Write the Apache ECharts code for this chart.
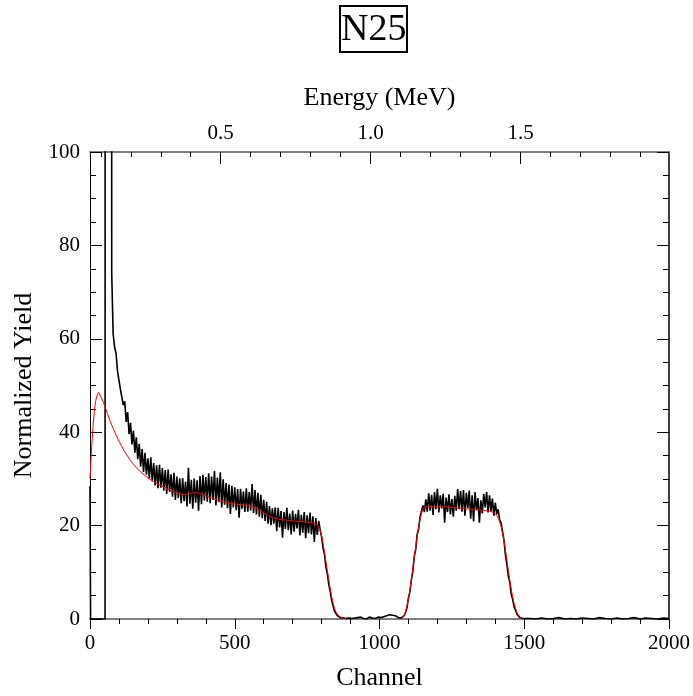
<!DOCTYPE html>
<html>
<head>
<meta charset="utf-8">
<title>N25</title>
<script src="https://cdn.jsdelivr.net/npm/echarts@6/dist/echarts.min.js"></script>
<style>
  html, body { margin: 0; padding: 0; background: #fff; }
  #chart { width: 693px; height: 696px; }
</style>
</head>
<body>
<div id="chart"></div>
<script>
// measured spectrum: irregular head (low-channel noise spike), then every 5 channels
var headChannels = [0, 1, 2, 52, 53, 74, 75]
var headCounts = [28.5, 28.5, 0, 0, 400, 400, 74]

var countsStart = 80
var countsStep = 5
var counts = [
  // 80 - 200
  61, 58.2, 56.9, 53.1, 52.8, 49.2, 49.6, 45.8, 46.6, 42.2, 44.3, 39.6, 42.0, 37.4, 40.3, 35.6, 38.9, 34.2, 37.5, 32.6, 36.4, 31.5, 35.6, 30.9, 34.4,
  // 205 - 400
  30.1, 34.6, 29.5, 33.4, 28.6, 32.9, 28.0, 33.0, 28.1, 32.3, 27.5, 31.9, 26.8, 32.0, 27.2, 31.0, 26.2, 31.3, 25.5, 30.5,
  25.9, 30.1, 24.8, 30.2, 25.2, 29.4, 24.1, 32.4, 24.7, 29.8, 23.6, 30.1, 24.9, 29.7, 23.2, 30.6, 24.6, 30.9, 25.4, 30.4,
  // 405 - 600
  25.1, 31.2, 24.8, 30.5, 25.5, 31.7, 24.3, 30.3, 25.0, 31.4, 23.9, 29.9, 24.5, 29.1, 23.7, 28.8, 22.5, 28.5, 23.9, 28.2,
  23.3, 27.8, 21.7, 27.9, 23.6, 27.3, 22.9, 28.0, 23.0, 27.2, 23.2, 28.9, 22.7, 27.6, 22.4, 27.0, 21.9, 26.6, 21.6, 25.5,
  // 605 - 790
  21.0, 25.1, 20.4, 24.2, 20.1, 23.7, 20.4, 23.9, 18.8, 23.8, 19.6, 23.1, 17.4, 22.9, 19.3, 23.8, 19.0, 22.6, 18.1,
  23.2, 18.7, 22.5, 19.4, 23.4, 17.9, 22.3, 18.5, 22.9, 17.3, 22.2, 18.4, 22.8, 18.1, 22.0, 16.5, 21.6, 18.0, 21.0,
  // 795 - 900
  19.1, 17.6, 15.2, 13.8, 11.1, 9.6, 7.3, 5.8, 3.9, 2.8, 1.6, 1.3, 0.7, 0.6, 0.3, 0.5, 0.2, 0.4, 0.1, 0.3, 0.2, 0.4,
  // 905 - 1080
  0.1, 0.3, 0.2, 0.0, 0.3, 0.1, 0.4, 0.2, 0.1, 0.3, 0.0, 0.2, 0.4, 0.1, 0.2, 0.3, 0.1, 0.2,
  0.4, 0.2, 0.3, 0.1, 0.5, 0.4, 0.7, 0.5, 0.9, 0.6, 0.8, 0.5, 0.7, 0.4, 0.3, 0.1, 0.2, 0.4,
  // 1085 - 1160
  0.7, 1.4, 2.4, 4.5, 5.8, 8.3, 10.1, 13.4, 14.8, 18.1, 19.2, 21.8, 21.6, 24.3, 22.9, 25.6,
  // 1165 - 1400
  23.0, 26.9, 23.2, 26.6, 22.3, 27.2, 23.5, 27.9, 22.8, 26.5, 23.7, 26.8, 20.6, 26.0, 22.9, 26.7,
  22.4, 25.7, 21.9, 26.4, 23.2, 27.8, 23.5, 27.4, 23.0, 27.6, 22.1, 27.0, 23.8, 27.5, 21.5, 26.5,
  20.9, 27.2, 23.3, 25.9, 20.6, 25.4, 22.6, 26.8, 23.9, 27.2, 22.8, 26.5, 23.1, 25.8, 22.1, 24.9,
  // 1405 - 1500
  22.4, 23.5, 21.2, 20.6, 18.7, 16.9, 13.8, 11.7, 9.2, 7.9, 5.3, 4.2, 2.6, 1.9, 1.0, 0.8, 0.3, 0.2, 0.1, 0.0
]

// sparse background above the Si edge, every 20 channels
var tailStart = 1520
var tailStep = 20
var tailCounts = [0.1, 0, 0.2, 0, 0.1, 0.3, 0, 0.1, 0, 0.2, 0.1, 0, 0.3, 0.1, 0, 0.2, 0, 0.1, 0.3, 0, 0.2, 0.1, 0, 0.2, 0.1]

// simulation (red)
var fitChannels = [
  0, 5, 10, 15, 20, 25, 30, 35, 40, 50, 60, 70, 80, 90, 100, 120, 140, 160, 180, 200,
  220, 240, 260, 280, 300, 320, 340, 360, 380, 400, 430, 460, 490, 520, 550, 570, 590, 610, 630, 660,
  700, 740, 770, 785, 795, 800, 805, 810, 815, 820, 825, 830, 835, 840, 845, 850, 860, 870, 880, 885,
  886, 1075, 1080, 1085, 1090, 1095, 1100, 1105, 1110, 1115, 1120, 1125, 1130, 1135, 1140, 1145, 1150, 1155, 1160, 1200,
  1250, 1300, 1350, 1380, 1395, 1405, 1410, 1415, 1420, 1425, 1430, 1435, 1440, 1445, 1450, 1455, 1460, 1465, 1470, 1475,
  1480, 1485, 1490, 1495
]
var fitValues = [
  30, 36, 41, 44.5, 46.8, 48, 48.5, 48.2, 47.3, 45.8, 44, 42.3, 40.8, 39.4, 38.1, 35.8, 33.9, 32.4, 31.2, 30.2,
  29.4, 28.7, 28.1, 27.5, 27, 26.6, 26.8, 27.1, 26.9, 26.4, 25.7, 25.1, 24.7, 24.5, 24.2, 23.8, 23.1, 22.3, 21.7, 21.3,
  21, 20.8, 20.6, 20.2, 19, 17.8, 16.2, 14.3, 12.3, 10.3, 8.3, 6.4, 4.7, 3.3, 2.2, 1.4, 0.6, 0.25, 0.05, 0,
  null, 0, 0.3, 0.7, 1.5, 2.7, 4.3, 6.2, 8.4, 10.7, 13.1, 15.4, 17.6, 19.6, 21.3, 22.6, 23.5, 23.9, 24.1, 24.1,
  23.9, 23.6, 23.3, 23.1, 22.8, 22.2, 21.6, 20.8, 19.8, 18.5, 16.8, 14.8, 12.6, 10.4, 8.3, 6.4, 4.7, 3.3, 2.2, 1.4,
  0.8, 0.4, 0.15, 0
]

var energyMajor = [0.5, 1.0, 1.5]
var energyMinor = [0.1, 0.2, 0.3, 0.4, 0.6, 0.7, 0.8, 0.9, 1.1, 1.2, 1.3, 1.4, 1.6, 1.7, 1.8, 1.9]
// energy calibration at the plot edges (channel 0 and channel 2000)
var energyMin = 0.064
var energyMax = 1.995

var serif = 'Liberation Serif'

var measured = []
headChannels.forEach(function (c, i) { measured.push([c, headCounts[i]]) })
counts.forEach(function (v, i) { measured.push([countsStart + i * countsStep, v]) })
tailCounts.forEach(function (v, i) { measured.push([tailStart + i * tailStep, v]) })

var fit = fitChannels.map(function (c, i) { return [c, fitValues[i]] })

var myChart = echarts.init(document.getElementById('chart'))

var option = {
  animation: false,
  title: {
    text: 'N25',
    left: 340,
    top: 6,
    padding: [5, 1, 3, 1],
    borderColor: '#000',
    borderWidth: 2,
    textStyle: { fontFamily: serif, fontSize: 38, fontWeight: 'normal', color: '#000' }
  },
  grid: { left: 90, right: 23, top: 152, bottom: 77 },
  xAxis: [
    {
      type: 'value',
      position: 'bottom',
      min: 0,
      max: 2000,
      interval: 500,
      name: 'Channel',
      nameLocation: 'middle',
      nameGap: 46,
      nameTextStyle: { fontFamily: serif, fontSize: 26, color: '#000' },
      axisLine: { onZero: false, lineStyle: { color: '#808080', width: 2 } },
      axisTick: { length: 10, lineStyle: { color: '#000' } },
      minorTick: { show: true, splitNumber: 5, length: 5, lineStyle: { color: '#000' } },
      axisLabel: {
        margin: 14,
        fontFamily: serif,
        fontSize: 21,
        color: '#000',
        formatter: function (v) { return String(v) }
      },
      splitLine: { show: false }
    },
    {
      type: 'value',
      position: 'top',
      min: energyMin,
      max: energyMax,
      axisLine: { onZero: false, lineStyle: { color: '#808080', width: 2 } },
      axisTick: { inside: true, length: 5, lineStyle: { color: '#000' }, customValues: energyMinor },
      axisLabel: { show: false },
      splitLine: { show: false }
    },
    {
      type: 'value',
      position: 'top',
      min: energyMin,
      max: energyMax,
      name: 'Energy (MeV)',
      nameLocation: 'middle',
      nameGap: 41,
      nameTextStyle: { fontFamily: serif, fontSize: 26, color: '#000' },
      axisLine: { show: false, onZero: false },
      axisTick: { inside: true, length: 12, lineStyle: { color: '#000' }, customValues: energyMajor },
      axisLabel: {
        margin: 8,
        fontFamily: serif,
        fontSize: 21,
        color: '#000',
        customValues: energyMajor,
        formatter: function (v) { return v.toFixed(1) }
      },
      splitLine: { show: false }
    }
  ],
  yAxis: [
    {
      type: 'value',
      position: 'left',
      min: 0,
      max: 100,
      interval: 20,
      name: 'Normalized Yield',
      nameLocation: 'middle',
      nameGap: 53,
      nameTextStyle: { fontFamily: serif, fontSize: 26, color: '#000' },
      axisLine: { onZero: false, lineStyle: { color: '#000', width: 1 } },
      axisTick: { inside: true, length: 12, lineStyle: { color: '#000' } },
      minorTick: { show: true, splitNumber: 4, length: 6, lineStyle: { color: '#000' } },
      axisLabel: { margin: 10, fontFamily: serif, fontSize: 21, color: '#000' },
      splitLine: { show: false }
    },
    {
      type: 'value',
      position: 'right',
      min: 0,
      max: 100,
      interval: 20,
      axisLine: { onZero: false, lineStyle: { color: '#000', width: 1.5 } },
      axisTick: { inside: true, length: 12, lineStyle: { color: '#000' } },
      minorTick: { show: true, splitNumber: 4, length: 6, lineStyle: { color: '#000' } },
      axisLabel: { show: false },
      splitLine: { show: false }
    }
  ],
  series: [
    {
      name: 'Measured',
      type: 'line',
      xAxisIndex: 0,
      yAxisIndex: 0,
      data: measured,
      showSymbol: false,
      clip: true,
      lineStyle: { color: '#000', width: 1.6 }
    },
    {
      name: 'Simulation',
      type: 'line',
      xAxisIndex: 0,
      yAxisIndex: 0,
      data: fit,
      showSymbol: false,
      connectNulls: false,
      clip: true,
      lineStyle: { color: '#ff0000', width: 1 }
    }
  ]
}

myChart.setOption(option)
</script>
</body>
</html>
